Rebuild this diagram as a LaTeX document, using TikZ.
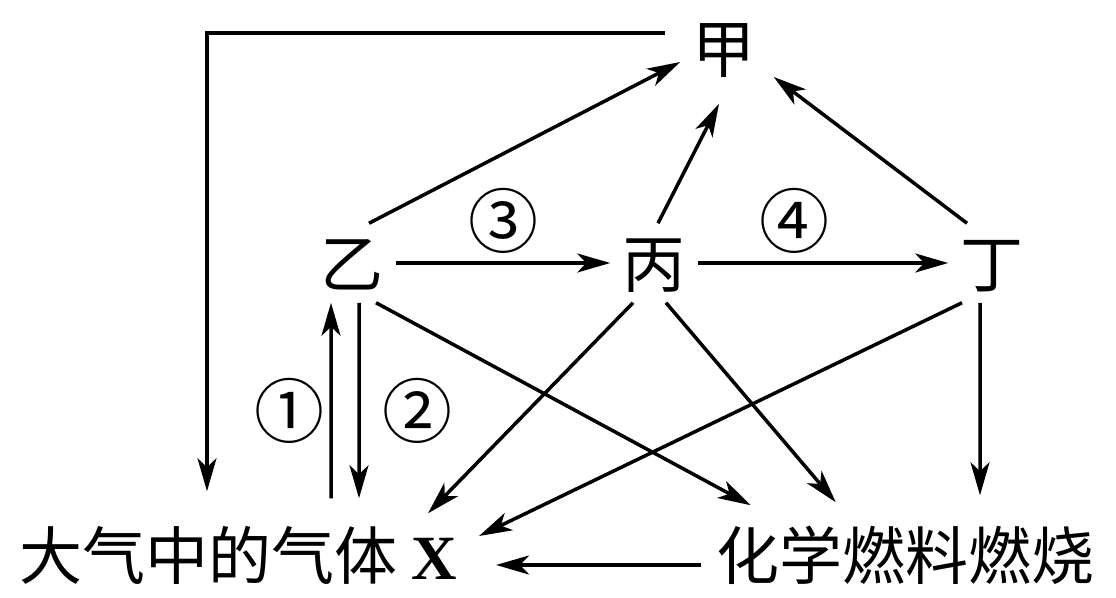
\documentclass[tikz,border=0pt]{standalone}
\usepackage{fontspec}
\setmainfont{Liberation Serif}
\newfontfamily\cjk{Noto Sans CJK SC}
\usetikzlibrary{arrows.meta}

\begin{document}
\begin{tikzpicture}[x=1bp, y=-1bp, line width=3.5bp,
    arr/.style={-{Stealth[length=33bp, width=19bp, inset=9bp]}},
    word/.style={font=\cjk\fontsize{63bp}{70bp}\selectfont, inner sep=0pt, text height=54bp, text depth=5bp},
    box/.style={word, minimum width=84bp, minimum height=76bp},
    num/.style={font=\cjk\fontsize{70bp}{70bp}\selectfont, inner sep=0pt}]
    \useasboundingbox (0,0) rectangle (1116,598);

    \node[box] (jia) at (724,48) {甲};
    \node[box] (yi) at (352,263) {乙};
    \node[box] (bing) at (654,263) {丙};
    \node[box] (ding) at (992,263) {丁};

    \node[word] (gas) at (238.5,554.5) {大气中的气体 {\rmfamily\bfseries X}};
    \node[word] (fuel) at (905.5,554.5) {化学燃料燃烧};

    \node[num] (num1) at (289,411) {①};
    \node[num] (num2) at (417,411) {②};
    \node[num] (num3) at (503,221) {③};
    \node[num] (num4) at (794,221) {④};

    \draw[arr] ([xshift=-15bp, yshift=15bp]jia.west) -| ([xshift=-31.5bp, yshift=32bp]gas.north);
    \draw[arr] ([xshift=17bp]yi.north) -- ([yshift=-14bp]jia.west);
    \draw[arr] ([xshift=4bp]bing.north) -- ([xshift=-5bp, yshift=-16bp]jia.south);
    \draw[arr] ([xshift=-25bp]ding.north) -- ([xshift=6bp, yshift=-29bp]jia.east);

    \draw[arr] (yi) -- (bing);
    \draw[arr] (bing) -- (ding);

    \draw[arr] ([xshift=92.5bp, yshift=25bp]gas.north) -- ([xshift=-21bp]yi.south);
    \draw[arr] ([xshift=7bp]yi.south) -- ([xshift=120.5bp, yshift=25bp]gas.north);
    \draw[arr] ([xshift=24bp]yi.south) -- ([xshift=36bp, yshift=18bp]fuel.north west);

    \draw[arr] ([xshift=-21bp]bing.south) -- ([xshift=-31bp, yshift=10bp]gas.north east);
    \draw[arr] ([xshift=12bp]bing.south) -- ([xshift=121bp, yshift=21bp]fuel.north west);

    \draw[arr] ([xshift=-30bp]ding.south) -- ([xshift=20bp, yshift=18.5bp]gas.east);
    \draw[arr] ([xshift=-12bp]ding.south) -- ([xshift=74.5bp, yshift=28bp]fuel.north);

    \draw[arr] ([xshift=-14bp, yshift=-10.5bp]fuel.west) -- ([xshift=37bp, yshift=-10.5bp]gas.east);
\end{tikzpicture}
\end{document}
